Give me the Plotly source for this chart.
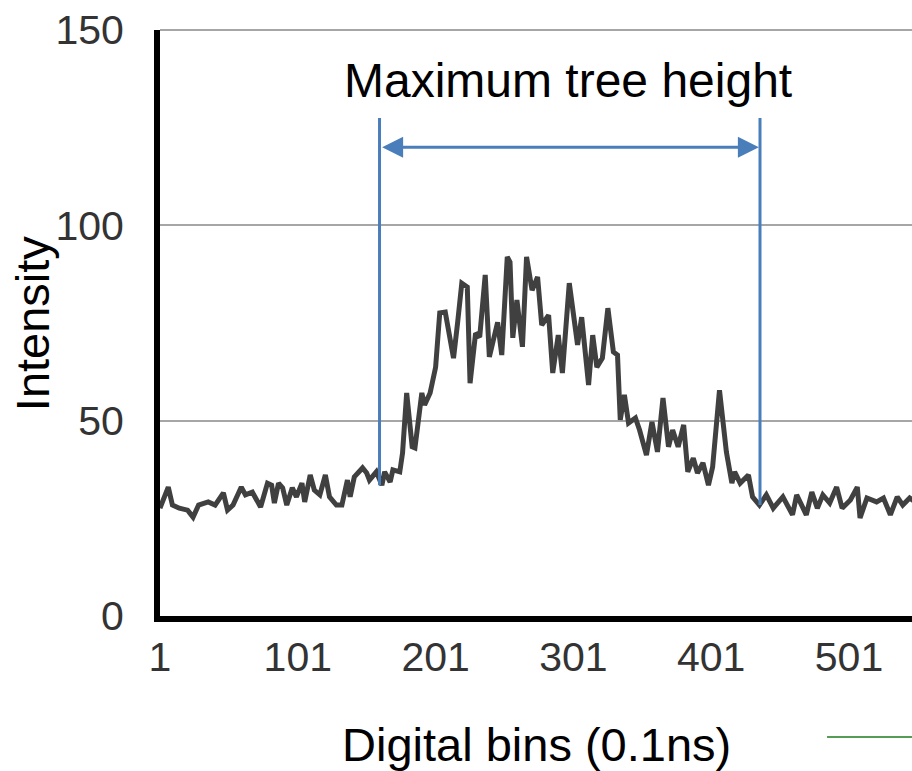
import plotly.graph_objects as go

# ---- data ----
bins = [1, 7, 10, 15, 21, 25, 29, 36, 41, 47, 50, 54, 60, 63, 68, 74, 79, 82, 84, 87,
        90, 93, 97, 100, 104, 106, 110, 113, 117, 121, 124, 129, 133, 137, 139, 142, 148, 151, 153, 158,
        162, 164, 168, 170, 175, 177, 180, 184, 186, 191, 193, 197, 201, 204, 208, 210, 214, 217, 220, 224,
        226, 230, 233, 237, 240, 246, 249, 253, 255, 257, 260, 264, 267, 271, 275, 278, 283, 286, 290, 293,
        298, 304, 307, 312, 315, 318, 322, 326, 330, 333, 335, 338, 341, 346, 349, 354, 358, 362, 366, 370,
        373, 377, 381, 384, 388, 391, 395, 399, 402, 407, 410, 412, 416, 418, 422, 424, 428, 431, 435, 436,
        441, 446, 453, 460, 463, 470, 474, 478, 482, 487, 492, 496, 502, 507, 509, 514, 521, 526, 531, 536,
        540, 545, 550]
intensity = [27.6, 33.0, 28.4, 27.6, 27.1, 25.3, 28.4, 29.2, 28.4, 31.5, 27.1, 28.4, 33.0, 31.0, 31.7, 27.9, 34.0, 33.5, 28.9, 34.0,
             32.8, 28.4, 32.8, 30.5, 34.0, 29.2, 36.1, 32.2, 31.0, 36.1, 30.5, 28.4, 28.4, 34.8, 30.5, 35.6, 37.9, 36.6, 34.8, 36.9,
             33.5, 36.9, 34.3, 37.4, 36.9, 41.7, 57.1, 43.3, 43.0, 57.1, 54.0, 57.1, 63.7, 77.6, 77.8, 73.2, 66.0, 75.2, 85.2, 84.2,
             59.6, 72.4, 71.4, 87.3, 66.3, 75.2, 66.8, 91.9, 90.6, 71.2, 80.9, 68.9, 91.9, 83.4, 86.8, 74.5, 77.0, 62.2, 71.9, 62.2,
             85.2, 69.4, 76.5, 59.1, 71.9, 63.7, 66.0, 78.8, 67.6, 66.8, 50.2, 56.6, 49.4, 50.7, 47.6, 41.2, 49.7, 42.0, 55.8, 43.3,
             47.6, 43.3, 48.9, 36.9, 40.4, 36.6, 39.2, 33.5, 38.1, 57.8, 46.8, 42.0, 34.0, 36.9, 34.0, 34.8, 36.1, 30.5, 28.9, 28.4,
             31.0, 27.6, 30.5, 25.9, 31.0, 25.9, 31.7, 27.6, 31.0, 28.9, 33.0, 27.6, 29.7, 33.0, 25.1, 30.2, 29.2, 30.2, 25.9, 30.5,
             28.4, 30.2, 29.0]

x_ticks = [1, 101, 201, 301, 401, 501]
y_ticks = [0, 50, 100, 150]

tree_start, tree_end = 160.3, 436.4
start_base, end_base = 33.5, 28.4
marker_top, arrow_level = 127.5, 120

BLUE = "#4a7ebb"
GRID = "#a6a6a6"
FONT = "Liberation Sans, Arial, sans-serif"

fig = go.Figure()
fig.add_trace(go.Scatter(x=bins, y=intensity, mode="lines",
                         line=dict(color="#404040", width=5), showlegend=False,
                         hoverinfo="skip"))

# top gridline (at 150, plot edge)
fig.add_shape(type="line", xref="paper", yref="paper", x0=0, x1=1, y0=1, y1=1,
              line=dict(color=GRID, width=2), layer="below")

# vertical markers
fig.add_shape(type="line", x0=tree_start, x1=tree_start, y0=start_base, y1=marker_top,
              line=dict(color=BLUE, width=3))
fig.add_shape(type="line", x0=tree_end, x1=tree_end, y0=end_base, y1=marker_top,
              line=dict(color=BLUE, width=3))

# double-headed arrow
fig.add_annotation(x=tree_end - 0.8, y=arrow_level, ax=tree_start + 0.8, ay=arrow_level,
                   xref="x", yref="y", axref="x", ayref="y", text="", showarrow=True,
                   arrowhead=2, arrowside="end+start", arrowsize=1.4, arrowwidth=3,
                   arrowcolor=BLUE, standoff=0, startstandoff=0, startarrowhead=2,
                   startarrowsize=1.4)

fig.add_annotation(x=297.4, y=137.0, xref="x", yref="y", text="Maximum tree height",
                   showarrow=False, font=dict(family=FONT, size=48, color="#000000"),
                   xanchor="center", yanchor="middle")

# axis titles
fig.add_annotation(x=-0.17, y=0.5, xref="paper", yref="paper", text="Intensity",
                   textangle=-90, showarrow=False, xanchor="center", yanchor="middle",
                   font=dict(family=FONT, size=47, color="#000000"))
fig.add_annotation(x=0.5, y=-0.22, xref="paper", yref="paper", text="Digital bins (0.1ns)",
                   showarrow=False, xanchor="center", yanchor="middle",
                   font=dict(family=FONT, size=47, color="#000000"))

# stray green line at bottom right
fig.add_shape(type="line", xref="paper", yref="paper", x0=0.887, x1=1.02, y0=-0.2065, y1=-0.2065,
              line=dict(color="#1e7b1e", width=1.5))

fig.update_layout(
    width=912, height=771,
    margin=dict(l=160, r=0, t=30, b=155),
    paper_bgcolor="white", plot_bgcolor="white",
    font=dict(family=FONT, color="#333333"),
    xaxis=dict(range=[1, 546.7], tickvals=x_ticks, ticktext=[str(v) for v in x_ticks],
               showgrid=False, zeroline=False, showline=True, linecolor="black", linewidth=6,
               ticks="", tickfont=dict(family=FONT, size=41, color="#333333"),
               ticklabelstandoff=0),
    yaxis=dict(range=[0, 150], tickvals=y_ticks, showgrid=True, gridcolor=GRID,
               gridwidth=1.5, zeroline=False, showline=True, linecolor="black", linewidth=6,
               ticks="", tickfont=dict(family=FONT, size=41, color="#333333"),
               ticklabelstandoff=22),
)

fig.write_html("out.html")
